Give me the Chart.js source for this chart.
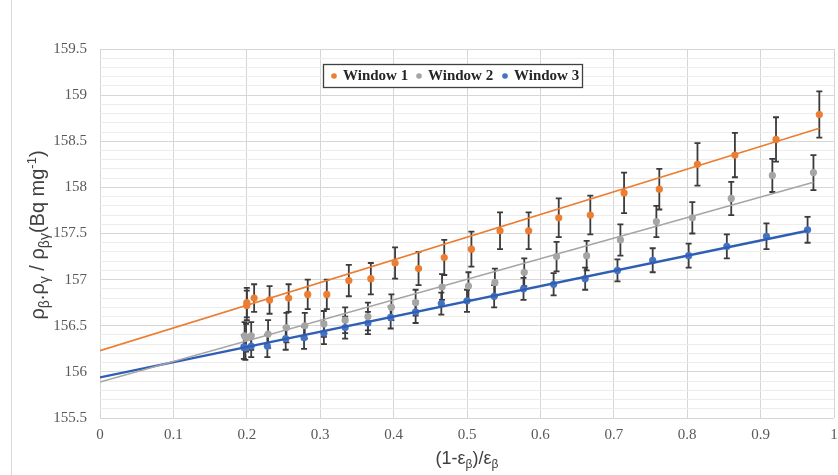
<!DOCTYPE html>
<html>
<head>
<meta charset="utf-8">
<script src="https://cdn.jsdelivr.net/npm/chart.js@4.4.1/dist/chart.umd.min.js"></script>
<style>
  html, body { margin: 0; padding: 0; background: #ffffff; }
  #wrap { width: 838px; height: 475px; }
</style>
</head>
<body>
<div id="wrap"><canvas id="chart" width="838" height="475"></canvas></div>
<script>
/* =====================
  Data
===================== */

var seriesNames = ['Window 1', 'Window 2', 'Window 3'];

var w1X = [0.200, 0.200, 0.210, 0.231, 0.257, 0.283, 0.309, 0.339, 0.369, 0.402, 0.434, 0.469, 0.506, 0.545, 0.584, 0.625, 0.668, 0.714, 0.762, 0.814, 0.865, 0.921, 0.980];
var w1Y = [156.75, 156.72, 156.80, 156.78, 156.80, 156.84, 156.84, 156.99, 157.01, 157.18, 157.12, 157.24, 157.33, 157.53, 157.53, 157.67, 157.70, 157.94, 157.98, 158.25, 158.35, 158.52, 158.79];
var w1Err = [0.16, 0.16, 0.15, 0.15, 0.15, 0.16, 0.16, 0.17, 0.17, 0.17, 0.18, 0.19, 0.19, 0.20, 0.20, 0.21, 0.21, 0.22, 0.22, 0.23, 0.24, 0.24, 0.25];

var w2X = [0.197, 0.199, 0.206, 0.229, 0.254, 0.279, 0.305, 0.334, 0.365, 0.397, 0.430, 0.466, 0.502, 0.538, 0.578, 0.622, 0.663, 0.709, 0.758, 0.807, 0.860, 0.916, 0.972];
var w2Y = [156.39, 156.37, 156.39, 156.41, 156.48, 156.50, 156.52, 156.56, 156.60, 156.70, 156.75, 156.92, 156.93, 156.97, 157.08, 157.25, 157.26, 157.43, 157.63, 157.67, 157.88, 158.13, 158.16];
var w2Err = [0.15, 0.15, 0.15, 0.15, 0.16, 0.14, 0.14, 0.14, 0.15, 0.14, 0.14, 0.14, 0.15, 0.15, 0.15, 0.16, 0.16, 0.17, 0.17, 0.17, 0.18, 0.18, 0.19];

var w3X = [0.196, 0.198, 0.206, 0.228, 0.253, 0.278, 0.305, 0.334, 0.365, 0.396, 0.430, 0.465, 0.500, 0.537, 0.577, 0.618, 0.661, 0.705, 0.753, 0.802, 0.854, 0.908, 0.964];
var w3Y = [156.27, 156.26, 156.28, 156.28, 156.36, 156.37, 156.42, 156.48, 156.53, 156.59, 156.65, 156.74, 156.77, 156.82, 156.90, 156.95, 157.01, 157.10, 157.21, 157.26, 157.36, 157.47, 157.54];
var w3Err = [0.13, 0.13, 0.12, 0.12, 0.12, 0.12, 0.12, 0.12, 0.12, 0.12, 0.12, 0.12, 0.12, 0.12, 0.12, 0.12, 0.12, 0.12, 0.13, 0.13, 0.13, 0.14, 0.14];

// linear trendline ends (x = 0 and last point)
var trend1X = [0, 0.980];
var trend1Y = [156.23, 158.64];
var trend2X = [0, 0.972];
var trend2Y = [155.89, 158.055];
var trend3X = [0, 0.964];
var trend3Y = [155.94, 157.53];

var xTicksMin = 0, xTicksMax = 1, xStep = 0.1;
var yTicksMin = 155.5, yTicksMax = 159.5, yStep = 0.1;

var markerColors = ['#ED7D31', '#A5A5A5', '#4472C4'];
var lineColors = ['#ED7D31', '#A5A5A5', '#2F5EB5'];

/* =====================
  Helpers
===================== */

var toPoints = function(xs, ys) {
  return xs.map(function(x, i) { return {x: x, y: ys[i]}; });
};

var pointSet = function(idx, xs, ys, errs) {
  return {
    label: seriesNames[idx],
    data: toPoints(xs, ys),
    errs: errs,
    showLine: false,
    pointRadius: 3.6,
    pointHoverRadius: 3.6,
    pointBorderWidth: 0,
    backgroundColor: markerColors[idx],
    borderColor: markerColors[idx],
    order: 2
  };
};

var trendSet = function(idx, xs, ys, width) {
  return {
    label: seriesNames[idx] + ' trend',
    data: toPoints(xs, ys),
    showLine: true,
    pointRadius: 0,
    borderColor: lineColors[idx],
    borderWidth: width,
    order: 1
  };
};

// draws a list of text pieces (sub/superscripts shift with dy)
var drawRich = function(ctx, parts, x, y, family, color) {
  var total = 0;
  parts.forEach(function(p) {
    ctx.font = p.size + 'px ' + family;
    p.w = ctx.measureText(p.t).width;
    total += p.w;
  });
  var cx = x - total / 2;
  ctx.fillStyle = color;
  ctx.textAlign = 'left';
  ctx.textBaseline = 'alphabetic';
  parts.forEach(function(p) {
    ctx.font = p.size + 'px ' + family;
    ctx.fillText(p.t, cx, y + (p.dy || 0));
    cx += p.w;
  });
};

/* =====================
  Plugins
===================== */

var background = {
  id: 'background',
  beforeDraw: function(chart) {
    var ctx = chart.ctx;
    ctx.save();
    ctx.fillStyle = '#ffffff';
    ctx.fillRect(0, 0, chart.width, chart.height);
    ctx.strokeStyle = '#d9d9d9';
    ctx.lineWidth = 1;
    ctx.beginPath();
    ctx.moveTo(11.5, 0);
    ctx.lineTo(11.5, chart.height);
    ctx.stroke();
    ctx.restore();
  }
};

var errorBars = {
  id: 'errorBars',
  beforeDatasetsDraw: function(chart) {
    var ctx = chart.ctx;
    var xs = chart.scales.x, ys = chart.scales.y;
    ctx.save();
    ctx.strokeStyle = '#3b3b3b';
    ctx.lineWidth = 1.8;
    chart.data.datasets.forEach(function(ds) {
      if (!ds.errs) return;
      ds.data.forEach(function(p, i) {
        var px = xs.getPixelForValue(p.x);
        var top = ys.getPixelForValue(p.y + ds.errs[i]);
        var bot = ys.getPixelForValue(p.y - ds.errs[i]);
        ctx.beginPath();
        ctx.moveTo(px, top); ctx.lineTo(px, bot);
        ctx.moveTo(px - 3, top); ctx.lineTo(px + 3, top);
        ctx.moveTo(px - 3, bot); ctx.lineTo(px + 3, bot);
        ctx.stroke();
      });
    });
    ctx.restore();
  }
};

var titlesAndLegend = {
  id: 'titlesAndLegend',
  afterDraw: function(chart) {
    var ctx = chart.ctx;
    var sans = '"Liberation Sans", Arial, sans-serif';
    var serif = '"Liberation Serif", "Times New Roman", serif';
    ctx.save();

    // x axis title
    drawRich(ctx, [
      {t: '(1-\u03b5', size: 18},
      {t: '\u03b2', size: 12, dy: 4},
      {t: ')/\u03b5', size: 18},
      {t: '\u03b2', size: 12, dy: 4}
    ], 467, 464, sans, '#404040');

    // y axis title
    ctx.save();
    ctx.translate(44, 235);
    ctx.rotate(-Math.PI / 2);
    drawRich(ctx, [
      {t: '\u03c1', size: 20},
      {t: '\u03b2', size: 14, dy: 5},
      {t: '.\u03c1', size: 20},
      {t: '\u03b3', size: 14, dy: 5},
      {t: ' / \u03c1', size: 20},
      {t: '\u03b2\u03b3', size: 14, dy: 5},
      {t: '(Bq mg', size: 20},
      {t: '-1', size: 13, dy: -8},
      {t: ')', size: 20}
    ], 0, 0, sans, '#404040');
    ctx.restore();

    // legend box
    var bx = 323, by = 64, bw = 259, bh = 23;
    ctx.fillStyle = '#ffffff';
    ctx.fillRect(bx, by, bw, bh);
    ctx.strokeStyle = '#404040';
    ctx.lineWidth = 1.3;
    ctx.strokeRect(bx + 0.5, by + 0.5, bw, bh);
    var dots = [334, 419, 505];
    seriesNames.forEach(function(name, i) {
      ctx.fillStyle = markerColors[i];
      ctx.beginPath();
      ctx.arc(dots[i], by + 12, 2.8, 0, Math.PI * 2);
      ctx.fill();
      ctx.fillStyle = '#262626';
      ctx.font = 'bold 15px ' + serif;
      ctx.textAlign = 'left';
      ctx.textBaseline = 'middle';
      ctx.fillText(name, dots[i] + 9, by + 12.5);
    });
    ctx.restore();
  }
};

/* =====================
  Chart
===================== */

var ctx1 = document.getElementById('chart').getContext('2d');

var myChart = new Chart(ctx1, {
  type: 'scatter',
  data: {
    datasets: [
      pointSet(0, w1X, w1Y, w1Err),
      pointSet(1, w2X, w2Y, w2Err),
      pointSet(2, w3X, w3Y, w3Err),
      trendSet(0, trend1X, trend1Y, 1.6),
      trendSet(1, trend2X, trend2Y, 1.6),
      trendSet(2, trend3X, trend3Y, 2.4)
    ]
  },
  options: {
    responsive: false,
    animation: false,
    layout: { padding: { top: 49, right: 4, left: 0, bottom: 0 } },
    plugins: {
      legend: { display: false },
      tooltip: { enabled: false }
    },
    scales: {
      x: {
        type: 'linear',
        min: xTicksMin,
        max: xTicksMax,
        afterFit: function(scale) {
          scale.height = 57;
          scale.paddingRight = 0;
        },
        border: { display: false },
        grid: { color: '#d6d6d6', lineWidth: 1, drawTicks: false },
        ticks: {
          stepSize: xStep,
          autoSkip: false,
          maxRotation: 0,
          padding: 8,
          color: '#595959',
          font: { family: '"Liberation Serif", "Times New Roman", serif', size: 15 },
          callback: function(v) { return String(Math.round(v * 10) / 10); }
        }
      },
      y: {
        type: 'linear',
        min: yTicksMin,
        max: yTicksMax,
        afterFit: function(scale) { scale.width = 100; },
        border: { display: false },
        grid: {
          drawTicks: false,
          color: function(c) {
            var r = Math.round(c.tick.value * 10);
            return (r % 5 === 0) ? '#d6d6d6' : '#ededed';
          }
        },
        ticks: {
          stepSize: yStep,
          autoSkip: false,
          padding: 13,
          color: '#595959',
          font: { family: '"Liberation Serif", "Times New Roman", serif', size: 15 },
          callback: function(v) {
            var r = Math.round(v * 10);
            if (r % 5 !== 0) return '';
            return String(r / 10);
          }
        }
      }
    }
  },
  plugins: [background, errorBars, titlesAndLegend]
});
</script>
</body>
</html>
